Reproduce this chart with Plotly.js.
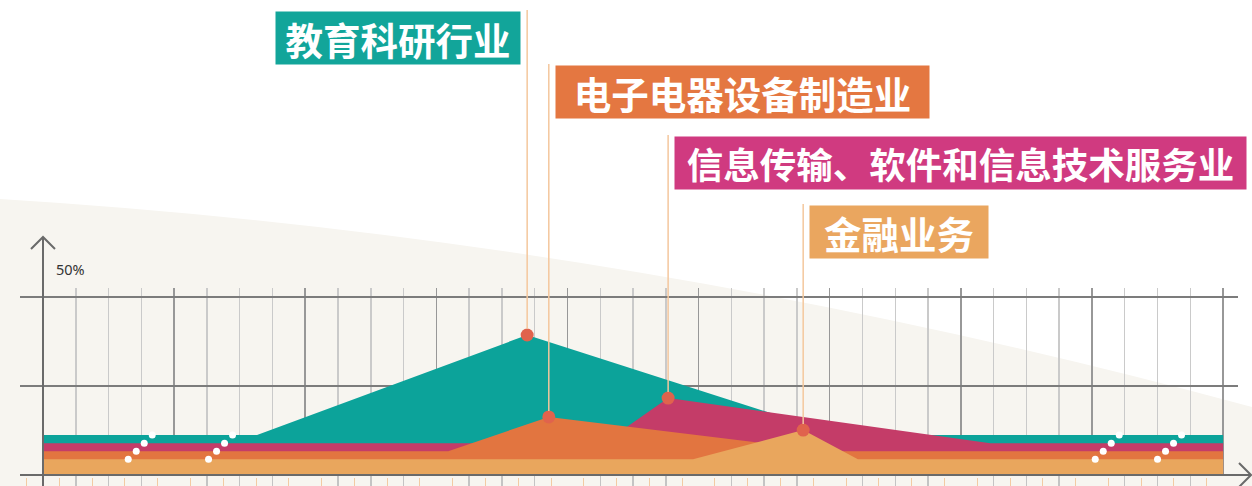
<!DOCTYPE html>
<html><head><meta charset="utf-8">
<script src="https://cdn.plot.ly/plotly-3.0.1.min.js"></script>
<style>html,body{margin:0;padding:0;background:#fff;}#chart{width:1252px;height:486px;}</style>
</head><body><div id="chart"></div>
<script>
// ---- data ----
const categories = ['教育科研行业', '电子电器设备制造业', '信息传输、软件和信息技术服务业', '金融业务'];
const eduX = [0, 6.53, 14.77, 24.3, 36];
const eduY = [11.2, 11.2, 39.3, 11.2, 11.2];
const elecX = [0, 12.36, 15.43, 24.0, 36];
const elecY = [6.7, 6.7, 16.3, 6.7, 6.7];
const itX = [0, 17.1, 19.07, 28.9, 36];
const itY = [8.9, 8.9, 21.6, 8.9, 8.9];
const finX = [0, 19.83, 23.19, 24.86, 36];
const finY = [4.4, 4.4, 12.6, 4.4, 4.4];
const yTickVals = [25, 50];
const yMaxLabel = '50%';
const breakStarts = [2.6, 5.05, 32.1, 34.0];

// ---- geometry ----
const W = 1252, H = 486, L = 20, R = 14, T = 288, B = 0;
const XR = [-0.7017, 36.455], YR = [0, 52.5];
const plotW = W - L - R, plotH = H - T - B;
const stripH = 11;
const yDom0 = stripH / plotH;
const xp = u => (u - XR[0]) / (XR[1] - XR[0]);
const yp = v => yDom0 + (v - YR[0]) / (YR[1] - YR[0]) * (1 - yDom0);
const pxX = px => (px - L) / plotW;
const pxY = py => (H - B - py) / plotH;

const series = [
  {name: categories[0], x: eduX, y: eduY, fill: '#0ca39a', box: '#12a59a', side: 'right', top: 11, w: 244, fs: 37.5},
  {name: categories[2], x: itX, y: itY, fill: '#c43c68', box: '#d03a80', side: 'left', top: 136, w: 571, fs: 36.5},
  {name: categories[1], x: elecX, y: elecY, fill: '#e27540', box: '#e47741', side: 'left', top: 65, w: 373, fs: 37.5},
  {name: categories[3], x: finX, y: finY, fill: '#e9a65d', box: '#eaa65f', side: 'left', top: 205, w: 178, fs: 37.5}
];

const traces = [];
series.forEach(s => {
  traces.push({x: s.x, y: s.y, type: 'scatter', mode: 'lines', fill: 'tozeroy',
    fillcolor: s.fill, line: {width: 0, color: s.fill}, hoverinfo: 'skip', showlegend: false});
});

// peaks
const peaks = series.map(s => {
  let i = s.y.indexOf(Math.max(...s.y));
  return {x: s.x[i], y: s.y[i]};
});
traces.push({x: peaks.map(p => p.x), y: peaks.map(p => p.y), type: 'scatter', mode: 'markers',
  marker: {size: 13, color: '#e0634d'}, hoverinfo: 'skip', showlegend: false, cliponaxis: false});

// break dots (at base levels of bands, bottom to top)
const baseLevels = [finY[0], elecY[0], itY[0], eduY[0]];
const bx = [], by = [];
breakStarts.forEach(b => baseLevels.forEach((lv, i) => { bx.push(b + i * 0.244); by.push(lv); }));
traces.push({x: bx, y: by, type: 'scatter', mode: 'markers', marker: {size: 7, color: '#ffffff'},
  hoverinfo: 'skip', showlegend: false, cliponaxis: false});

// lower strip (gridline stubs + small ticks)
const stubVals = [];
for (let k = 1; k < 36; k++) if (k % 4 !== 0) stubVals.push(k);
traces.push({x: [0], y: [0], xaxis: 'x2', yaxis: 'y2', type: 'scatter', mode: 'markers',
  marker: {size: 0.1, opacity: 0}, hoverinfo: 'skip', showlegend: false});

// ---- shapes ----
const shapes = [];
const path = `M ${pxX(0)},${pxY(199)} Q ${pxX(626)},${pxY(237.5)} ${pxX(1252)},${pxY(407)} ` +
  `L ${pxX(1252)},${pxY(486)} L ${pxX(0)},${pxY(486)} Z`;
shapes.push({type: 'path', xref: 'paper', yref: 'paper', path: path, fillcolor: '#f7f5f0',
  line: {width: 0}, layer: 'below'});

const axCol = '#6a6a6a';
const ax0 = xp(0);
const dx = 12 / plotW, dy = 12 / plotH;
// y axis
shapes.push({type: 'line', xref: 'paper', yref: 'paper', x0: ax0, x1: ax0, y0: 0, y1: pxY(237),
  line: {color: axCol, width: 2}, layer: 'above'});
shapes.push({type: 'path', xref: 'paper', yref: 'paper',
  path: `M ${ax0 - dx},${pxY(237) - dy} L ${ax0},${pxY(237)} L ${ax0 + dx},${pxY(237) - dy}`,
  line: {color: axCol, width: 2}, layer: 'above'});
// x axis
shapes.push({type: 'line', xref: 'paper', yref: 'paper', x0: 0, x1: pxX(1251), y0: yp(0), y1: yp(0),
  line: {color: axCol, width: 2}, layer: 'above'});
shapes.push({type: 'path', xref: 'paper', yref: 'paper',
  path: `M ${pxX(1251) - dx},${yp(0) + dy} L ${pxX(1251)},${yp(0)} L ${pxX(1251) - dx},${yp(0) - dy}`,
  line: {color: axCol, width: 2}, layer: 'above'});
// leaders
series.forEach((s, i) => {
  const p = peaks[i];
  shapes.push({type: 'line', xref: 'paper', yref: 'paper', x0: xp(p.x), x1: xp(p.x),
    y0: yp(p.y) + 6 / plotH, y1: pxY(s.top - 1), line: {color: '#f4c79d', width: 1.5}, layer: 'above'});
});

// ---- annotations ----
const annotations = series.map((s, i) => ({
  xref: 'paper', yref: 'paper', x: xp(peaks[i].x), y: pxY(s.top),
  xanchor: s.side, yanchor: 'top', xshift: s.side === 'right' ? -6 : 6,
  text: '<b>' + s.name + '</b>', showarrow: false,
  font: {family: 'Noto Sans CJK SC', size: s.fs, color: '#ffffff'},
  bgcolor: s.box, width: s.w, height: 52, borderpad: 0, align: 'center', valign: 'middle'
}));
annotations.push({xref: 'paper', yref: 'paper', x: pxX(54), y: pxY(269), xanchor: 'left', yanchor: 'middle',
  text: yMaxLabel, showarrow: false, font: {family: 'Noto Sans', size: 14.5, color: '#333333'}});

const layout = {
  width: W, height: H, margin: {l: L, r: R, t: T, b: B, pad: 0},
  paper_bgcolor: '#ffffff', plot_bgcolor: 'rgba(0,0,0,0)', showlegend: false,
  xaxis: {range: XR, domain: [0, 1], anchor: 'y', tick0: 0, dtick: 4, showgrid: true, gridcolor: '#989898',
    gridwidth: 1.5, zeroline: false, showticklabels: false, ticks: '', showline: false,
    minor: {dtick: 1, tick0: 0, showgrid: true, gridcolor: '#cacaca', gridwidth: 1.5}},
  yaxis: {range: YR, domain: [yDom0, 1], anchor: 'x', tickmode: 'array', tickvals: yTickVals, showgrid: true,
    gridcolor: '#7c7c7c', gridwidth: 1.5, zeroline: false, showticklabels: false, ticks: '', showline: false},
  xaxis2: {range: XR, domain: [0, 1], anchor: 'y2', tickmode: 'array', tickvals: stubVals, showgrid: true,
    gridcolor: '#c4c4c4', gridwidth: 1.5, zeroline: false, showticklabels: false, ticks: '', showline: false,
    minor: {tick0: 0.5, dtick: 1, ticks: 'inside', ticklen: 8, tickcolor: '#f3cba3', tickwidth: 1, showgrid: false}},
  yaxis2: {range: [0, 1], domain: [0, yDom0], anchor: 'x2', visible: false, showgrid: false, zeroline: false},
  shapes: shapes, annotations: annotations
};

Plotly.newPlot('chart', traces, layout, {staticPlot: true, displayModeBar: false});
</script>
</body></html>
